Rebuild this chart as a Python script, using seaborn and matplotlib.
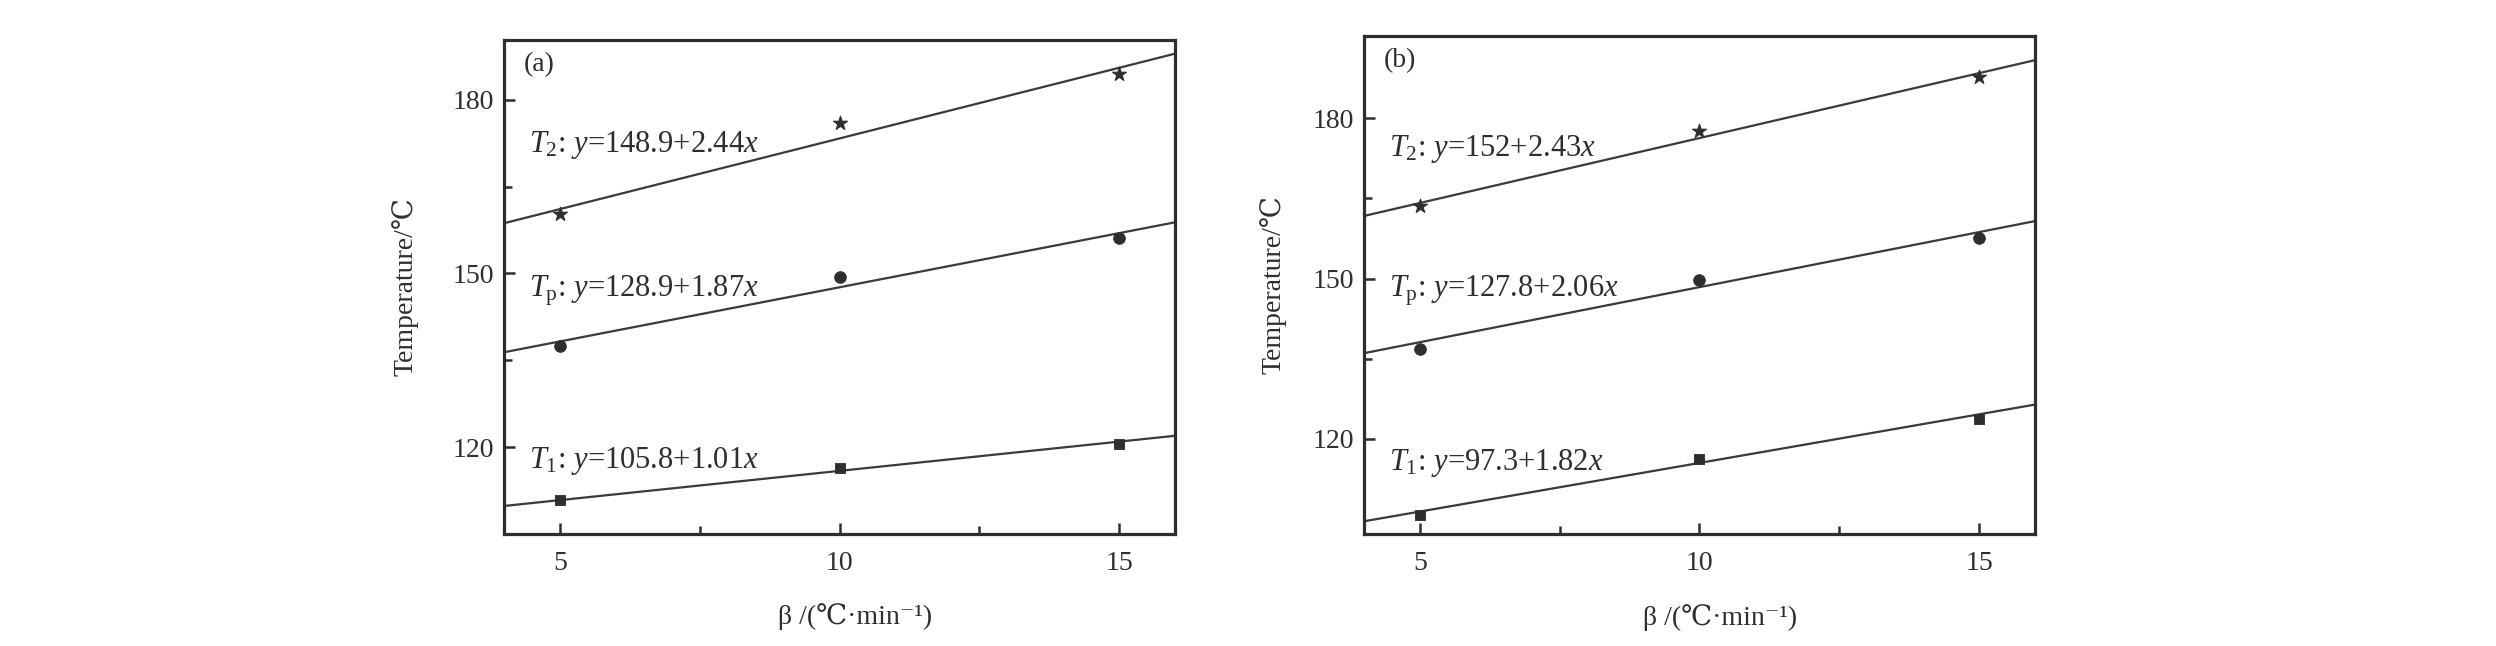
import numpy as np
import matplotlib
matplotlib.use("Agg")
import matplotlib.pyplot as plt
import seaborn as sns
from matplotlib.ticker import MultipleLocator, FixedLocator

# data
rates = [5, 10, 15]

a_t1 = [110.8, 116.4, 120.6]
a_tp = [137.5, 149.4, 156.1]
a_t2 = [160.2, 175.9, 184.5]

b_t1 = [105.8, 116.2, 123.8]
b_tp = [136.8, 149.8, 157.6]
b_t2 = [163.5, 177.7, 187.7]

# fitted lines (intercept, slope) for T1, Tp, T2
a_intercepts = [105.8, 128.9, 148.9]
a_slopes = [1.01, 1.87, 2.44]
b_intercepts = [97.3, 127.8, 152]
b_slopes = [1.82, 2.06, 2.43]

a_labels = ["$T_1$: $y$=105.8+1.01$x$", "$T_\\mathrm{p}$: $y$=128.9+1.87$x$", "$T_2$: $y$=148.9+2.44$x$"]
b_labels = ["$T_1$: $y$=97.3+1.82$x$", "$T_\\mathrm{p}$: $y$=127.8+2.06$x$", "$T_2$: $y$=152+2.43$x$"]

sns.set_style("ticks")
plt.rcParams["font.family"] = ["Liberation Serif", "DejaVu Serif"]
plt.rcParams["mathtext.fontset"] = "custom"
plt.rcParams["mathtext.rm"] = "Liberation Serif"
plt.rcParams["mathtext.it"] = "Liberation Serif:italic"
plt.rcParams["mathtext.bf"] = "Liberation Serif:bold"

ink = "#2e2e2e"
fs = 20

fig = plt.figure(figsize=(24.96, 6.46), dpi=100)
W, H = 2496, 646


def painel(rect, t1, tp, t2, inter, slope, labels, tag, ylim, lab_y, ylab_x, xlab_x):
    ax = fig.add_axes([rect[0] / W, 1 - rect[3] / H, (rect[1] - rect[0]) / W, (rect[3] - rect[2]) / H])
    xlim = (4, 16)
    lx = np.array(xlim, dtype=float)
    for b0, b1 in zip(inter, slope):
        sns.lineplot(x=lx, y=b0 + b1 * lx, color="#3a3a3a", lw=1.6, ax=ax)
    sns.scatterplot(x=rates, y=t1, marker="s", s=60, color=ink, edgecolor=ink, ax=ax, zorder=3)
    sns.scatterplot(x=rates, y=tp, marker="o", s=70, color=ink, edgecolor=ink, ax=ax, zorder=3)
    sns.scatterplot(x=rates, y=t2, marker="*", s=110, color=ink, edgecolor=ink, ax=ax, zorder=3)

    ax.set_xlim(*xlim)
    ax.set_ylim(*ylim)
    ax.xaxis.set_major_locator(FixedLocator(rates))
    ax.xaxis.set_minor_locator(FixedLocator([7.5, 12.5]))
    ax.yaxis.set_major_locator(MultipleLocator(30))
    ax.yaxis.set_minor_locator(FixedLocator([135, 165]))
    ax.tick_params(which="both", direction="in", top=False, right=False, colors=ink, labelsize=fs)
    ax.tick_params(which="major", length=8, width=1.8)
    ax.tick_params(which="minor", length=5.5, width=1.8)
    ax.tick_params(axis="x", pad=12)
    ax.tick_params(axis="y", pad=7)
    for sp in ax.spines.values():
        sp.set_linewidth(2.3)
        sp.set_color(ink)

    ax.set_ylabel("Temperature/℃", fontsize=fs, color=ink)
    ax.yaxis.set_label_coords(ylab_x, 0.5)
    # plain text so the ℃ glyph can fall back to DejaVu Serif
    ax.set_xlabel("β /(℃·min⁻¹)", fontsize=fs, color=ink)
    ax.xaxis.set_label_coords(xlab_x, -0.14)

    for txt, yy in zip(labels, lab_y):
        ax.text(0.038, yy, txt, transform=ax.transAxes, fontsize=fs + 2, color=ink, va="baseline", ha="left")
    ax.text(0.03, 0.975, tag, transform=ax.transAxes, fontsize=fs, color=ink, va="top", ha="left")
    return ax


painel((504, 1175, 40, 534), a_t1, a_tp, a_t2, a_intercepts, a_slopes, a_labels, "(a)",
       (105, 190.3), [0.133, 0.48, 0.773], -0.128, 0.523)
painel((1364, 2035, 36, 534), b_t1, b_tp, b_t2, b_intercepts, b_slopes, b_labels, "(b)",
       (102.2, 195.4), [0.128, 0.476, 0.759], -0.115, 0.53)

fig.savefig("out.png", dpi=100, facecolor="white")
